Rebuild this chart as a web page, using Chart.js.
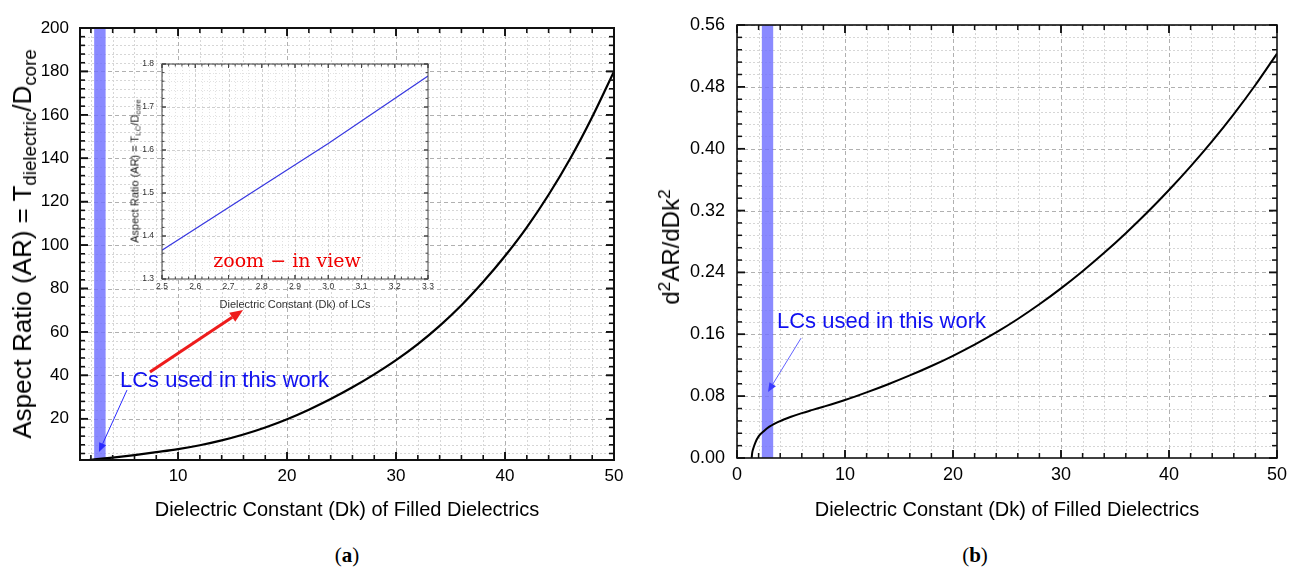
<!DOCTYPE html>
<html>
<head>
<meta charset="utf-8">
<script src="https://cdn.jsdelivr.net/npm/chart.js@4.4.1/dist/chart.umd.min.js"></script>
<style>
  html,body{margin:0;padding:0;background:#fff;}
  body{width:1296px;height:572px;position:relative;overflow:hidden;font-family:"Liberation Sans",Arial,sans-serif;}
  .cv{position:absolute;}
  .yt{position:absolute;white-space:nowrap;line-height:1;color:#000;transform:translate(-50%,-50%) rotate(-90deg);}
  .yt sub{font-size:72%;vertical-align:-0.28em;line-height:0;}
  .yt sup{font-size:72%;vertical-align:0.55em;line-height:0;}
  .cap{position:absolute;font-family:"Liberation Serif","DejaVu Serif",serif;font-size:21px;color:#000;transform:translate(-50%,-50%);}
</style>
</head>
<body>
<canvas id="chA" class="cv" width="648" height="540" style="left:0;top:0;width:648px;height:540px"></canvas>
<canvas id="chB" class="cv" width="648" height="540" style="left:648px;top:0;width:648px;height:540px"></canvas>
<canvas id="chI" class="cv" width="330" height="270" style="left:110px;top:50px;width:330px;height:270px"></canvas>

<div class="yt" style="left:22px;top:244px;font-size:26px">Aspect Ratio (AR) = T<sub>dielectric</sub>/D<sub>core</sub></div>
<div class="yt" style="left:135px;top:171px;font-size:11px;color:#222">Aspect Ratio (AR) = T<sub>LC</sub>/D<sub>core</sub></div>
<div class="yt" style="left:671px;top:247px;font-size:24px">d<sup>2</sup>AR/dDk<sup>2</sup></div>
<div class="cap" style="left:347px;top:555px">(<b>a</b>)</div>
<div class="cap" style="left:975px;top:555px">(<b>b</b>)</div>

<script>
// ---------------- DATA ----------------
// (a) Aspect ratio vs Dk
const dkA = [1,2,3,4,5,6,8,10,12,14,16,18,20,22,24,26,28,30,32,34,36,38,40,42,44,46,48,50];
const arA = [0.62,1.11,1.6,2.12,2.68,3.28,4.6,6.0,7.8,10.04,12.76,16.0,19.8,24.2,29.1,34.5,40.46,47.0,54.4,62.8,72.3,83.1,95.0,108.2,123.2,140.0,159.0,180.0];
const xTicksA = [10,20,30,40,50];
const yTicksA = [20,40,60,80,100,120,140,160,180,200];
const bandA = [2.3,3.35];

// inset: zoom-in view
const dkI = [2.5,3.0,3.3];
const arI = [1.367,1.615,1.772];
const xTicksI = [2.5,2.6,2.7,2.8,2.9,3.0,3.1,3.2,3.3];
const yTicksI = [1.3,1.4,1.5,1.6,1.7,1.8];

// (b) second derivative
const dkB = [1.36,1.4,1.5,1.7,2.0,2.5,3.0,4,5,6,7,8,10,12,14,16,18,20,22,24,26,28,30,32,34,36,38,40,42,44,46,48,50];
const d2B = [0,0.006,0.012,0.02,0.028,0.035,0.0405,0.0478,0.0533,0.058,0.0622,0.0663,0.075,0.0848,0.0954,0.1068,0.119,0.1322,0.1466,0.1624,0.1798,0.1988,0.2194,0.2416,0.2654,0.2908,0.3178,0.3466,0.3772,0.4098,0.4448,0.4824,0.523];
const xTicksB = [0,10,20,30,40,50];
const yTicksB = [0,0.08,0.16,0.24,0.32,0.40,0.48,0.56];
const bandB = [2.3,3.35];

const annText = 'LCs used in this work';
const zoomText = 'zoom \u2212 in view';

// ---------------- HELPERS ----------------
const SANS = '"Liberation Sans", Arial, sans-serif';
Chart.defaults.font.family = SANS;

function stepVals(min,max,step){
  const out=[]; const i0=Math.ceil(min/step-1e-6), i1=Math.floor(max/step+1e-6);
  for(let i=i0;i<=i1;i++) out.push(+(i*step).toFixed(6));
  return out;
}
function isMajor(v,m){return m.some(t=>Math.abs(t-v)<1e-6);}
function arrow(ctx,x0,y0,x1,y1,w,head,color){
  const ang=Math.atan2(y1-y0,x1-x0);
  const hx=x1-head*Math.cos(ang), hy=y1-head*Math.sin(ang);
  ctx.strokeStyle=color; ctx.lineWidth=w; ctx.setLineDash([]);
  ctx.beginPath(); ctx.moveTo(x0,y0); ctx.lineTo(hx,hy); ctx.stroke();
  const hw=head*0.42;
  ctx.fillStyle=color; ctx.beginPath(); ctx.moveTo(x1,y1);
  ctx.lineTo(hx+hw*Math.sin(ang),hy-hw*Math.cos(ang));
  ctx.lineTo(hx-hw*Math.sin(ang),hy+hw*Math.cos(ang));
  ctx.closePath(); ctx.fill();
}

const originPlugin = {
  id:'origin',
  beforeDatasetsDraw(chart){
    const o=chart.options.plugins.origin; if(!o) return;
    const ctx=chart.ctx, a=chart.chartArea, xs=chart.scales.x, ys=chart.scales.y;
    ctx.save();
    ctx.beginPath(); ctx.rect(a.left,a.top,a.right-a.left,a.bottom-a.top); ctx.clip();
    if(o.bg){ctx.fillStyle=o.bg; ctx.fillRect(a.left,a.top,a.right-a.left,a.bottom-a.top);}
    const ln=(x0,y0,x1,y1)=>{ctx.beginPath();ctx.moveTo(x0,y0);ctx.lineTo(x1,y1);ctx.stroke();};
    const xm=stepVals(xs.min,xs.max,o.xMinor).filter(v=>!isMajor(v,o.xMajor));
    const ym=stepVals(ys.min,ys.max,o.yMinor).filter(v=>!isMajor(v,o.yMajor));
    ctx.lineWidth=1;
    ctx.strokeStyle=o.minorColor; ctx.setLineDash(o.minorDash);
    xm.forEach(v=>{const p=Math.round(xs.getPixelForValue(v))+0.5; ln(p,a.top,p,a.bottom);});
    ym.forEach(v=>{const p=Math.round(ys.getPixelForValue(v))+0.5; ln(a.left,p,a.right,p);});
    ctx.strokeStyle=o.majorColor; ctx.setLineDash(o.majorDash);
    o.xMajor.forEach(v=>{const p=Math.round(xs.getPixelForValue(v))+0.5; ln(p,a.top,p,a.bottom);});
    o.yMajor.forEach(v=>{const p=Math.round(ys.getPixelForValue(v))+0.5; ln(a.left,p,a.right,p);});
    ctx.setLineDash([]);
    if(o.band){
      const b0=xs.getPixelForValue(o.band[0]), b1=xs.getPixelForValue(o.band[1]);
      ctx.fillStyle=o.bandColor; ctx.fillRect(b0,a.top,b1-b0,a.bottom-a.top);
    }
    ctx.restore();
  },
  afterDatasetsDraw(chart){
    const o=chart.options.plugins.origin; if(!o) return;
    const ctx=chart.ctx, a=chart.chartArea, xs=chart.scales.x, ys=chart.scales.y;
    ctx.save();
    ctx.setLineDash([]);
    ctx.strokeStyle=o.frameColor; ctx.lineWidth=o.tickWidth;
    const ln=(x0,y0,x1,y1)=>{ctx.beginPath();ctx.moveTo(x0,y0);ctx.lineTo(x1,y1);ctx.stroke();};
    const xAll=stepVals(xs.min,xs.max,o.xMinor), yAll=stepVals(ys.min,ys.max,o.yMinor);
    xAll.concat(o.xMajor).forEach(v=>{
      const L=isMajor(v,o.xMajor)?o.majLen:o.minLen; const p=xs.getPixelForValue(v);
      ln(p,a.bottom,p,a.bottom-L); ln(p,a.top,p,a.top+L);
    });
    yAll.concat(o.yMajor).forEach(v=>{
      const L=isMajor(v,o.yMajor)?o.majLen:o.minLen; const p=ys.getPixelForValue(v);
      ln(a.left,p,a.left+L,p); ln(a.right,p,a.right-L,p);
    });
    ctx.lineWidth=o.frameWidth; ctx.strokeStyle=o.frameColor;
    ctx.strokeRect(a.left,a.top,a.right-a.left,a.bottom-a.top);
    (o.arrows||[]).forEach(r=>{
      arrow(ctx,xs.getPixelForValue(r.from[0]),ys.getPixelForValue(r.from[1]),
                xs.getPixelForValue(r.to[0]),ys.getPixelForValue(r.to[1]),r.width,r.head,r.color);
    });
    (o.texts||[]).forEach(t=>{
      ctx.font=t.font; ctx.fillStyle=t.color; ctx.textAlign=t.align; ctx.textBaseline='middle';
      ctx.fillText(t.text,xs.getPixelForValue(t.x),ys.getPixelForValue(t.y));
    });
    ctx.restore();
  }
};
Chart.register(originPlugin);

function axis(opts){
  return {
    type:'linear', min:opts.min, max:opts.max,
    afterBuildTicks:s=>{s.ticks=opts.ticks.map(v=>({value:v}));},
    afterFit:s=>{ if(opts.w!==undefined) s.width=opts.w; if(opts.h!==undefined) s.height=opts.h; },
    grid:{display:false,drawTicks:false},
    border:{display:false},
    ticks:{font:{family:SANS,size:opts.fs},color:opts.color||'#000',padding:opts.pad,maxRotation:0,autoSkip:false,
           callback:opts.fmt||(v=>String(v))},
    title:opts.title?{display:true,text:opts.title,font:{family:SANS,size:opts.tfs},color:opts.color||'#000',padding:{top:0,bottom:opts.tpb}}:{display:false}
  };
}
function pts(xs,ys){return xs.map((x,i)=>({x:x,y:ys[i]}));}
const baseOpts = {responsive:false,maintainAspectRatio:false,animation:false,events:[]};

// ---------------- CHART (a) ----------------
new Chart(document.getElementById('chA'),{
  type:'line',
  data:{datasets:[{data:pts(dkA,arA),borderColor:'#000',borderWidth:2.2,pointRadius:0,cubicInterpolationMode:'monotone',fill:false}]},
  options:Object.assign({},baseOpts,{
    layout:{padding:{left:0,right:34,top:28,bottom:0}},
    plugins:{legend:{display:false},tooltip:{enabled:false},
      origin:{bg:'#fff',xMinor:2,yMinor:4,xMajor:xTicksA,yMajor:yTicksA,
        minorColor:'#d6d6d6',minorDash:[2,2],majorColor:'#b0b0b0',majorDash:[4,3],
        band:bandA,bandColor:'rgba(112,112,255,0.82)',
        frameColor:'#111',frameWidth:2,tickWidth:1.6,majLen:8,minLen:5,
        arrows:[
          {from:[5.31,33.2],to:[2.74,4.7],width:1,head:9,color:'#2a2aff'},
          {from:[7.42,41.5],to:[15.96,70.1],width:3,head:13,color:'#ee1c1c'}
        ],
        texts:[{text:annText,x:4.67,y:37.4,font:'22px '+SANS,color:'#1010f0',align:'left'}]
      }},
    scales:{
      x:axis({min:1,max:50,ticks:xTicksA,fs:17,pad:6,h:80,title:'Dielectric Constant (Dk) of Filled Dielectrics',tfs:20,tpb:18}),
      y:axis({min:1,max:200,ticks:yTicksA,fs:17,pad:11,w:80})
    }
  })
});

// ---------------- INSET ----------------
new Chart(document.getElementById('chI'),{
  type:'line',
  data:{datasets:[{data:pts(dkI,arI),borderColor:'#3838e0',borderWidth:1.2,pointRadius:0,tension:0,fill:false}]},
  options:Object.assign({},baseOpts,{
    layout:{padding:{left:0,right:12,top:14,bottom:0}},
    plugins:{legend:{display:false},tooltip:{enabled:false},
      origin:{bg:'#fff',xMinor:0.02,yMinor:0.02,xMajor:xTicksI,yMajor:yTicksI,
        minorColor:'#e2e2e2',minorDash:[1,2],majorColor:'#cfcfcf',majorDash:[3,2],
        frameColor:'#444',frameWidth:1,tickWidth:1,majLen:4,minLen:2.5,
        texts:[{text:zoomText,x:2.876,y:1.34,font:'19px "DejaVu Serif", serif',color:'#f00000',align:'center'}]
      }},
    scales:{
      x:axis({min:2.5,max:3.3,ticks:xTicksI,fs:8.5,pad:3,h:41,color:'#333',fmt:v=>v.toFixed(1),title:'Dielectric Constant (Dk) of LCs',tfs:11,tpb:8}),
      y:axis({min:1.3,max:1.8,ticks:yTicksI,fs:8.5,pad:8,w:52,color:'#333',fmt:v=>v.toFixed(1)})
    }
  })
});

// ---------------- CHART (b) ----------------
new Chart(document.getElementById('chB'),{
  type:'line',
  data:{datasets:[{data:pts(dkB,d2B),borderColor:'#000',borderWidth:2,pointRadius:0,cubicInterpolationMode:'monotone',fill:false}]},
  options:Object.assign({},baseOpts,{
    layout:{padding:{left:0,right:19,top:25,bottom:0}},
    plugins:{legend:{display:false},tooltip:{enabled:false},
      origin:{bg:'#fff',xMinor:2,yMinor:0.016,xMajor:xTicksB,yMajor:yTicksB,
        minorColor:'#d6d6d6',minorDash:[2,2],majorColor:'#b0b0b0',majorDash:[4,3],
        band:bandB,bandColor:'rgba(112,112,255,0.82)',
        frameColor:'#111',frameWidth:1.6,tickWidth:1.5,majLen:8,minLen:5,
        arrows:[{from:[5.93,0.155],to:[2.87,0.0854],width:0.8,head:9,color:'#3a3aff'}],
        texts:[{text:annText,x:3.7,y:0.176,font:'22px '+SANS,color:'#1010f0',align:'left'}]
      }},
    scales:{
      x:axis({min:0,max:50,ticks:xTicksB,fs:18,pad:6,h:82,title:'Dielectric Constant (Dk) of Filled Dielectrics',tfs:20,tpb:18}),
      y:axis({min:0,max:0.56,ticks:yTicksB,fs:18,pad:12,w:89,fmt:v=>v.toFixed(2)})
    }
  })
});
</script>
</body>
</html>
